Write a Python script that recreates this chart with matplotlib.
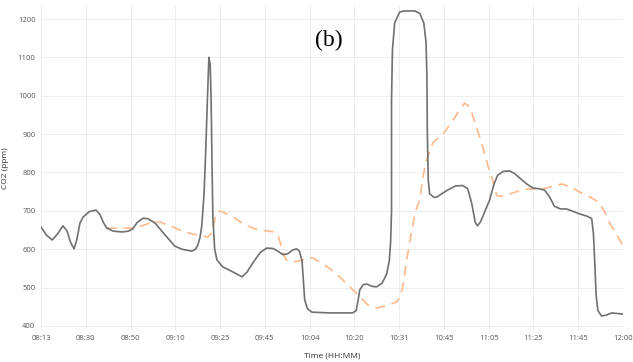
import matplotlib.pyplot as plt

time_labels = ["08:13", "08:30", "08:50", "09:10", "09:25", "09:45", "10:04",
               "10:20", "10:31", "10:45", "11:05", "11:25", "11:45", "12:00"]

# measured CO2 (position along the tick index, ppm)
meas_x = [0.00, 0.12, 0.25, 0.37, 0.49, 0.58, 0.66, 0.74, 0.80, 0.87, 0.94, 1.08,
          1.23, 1.32, 1.40, 1.47, 1.62, 1.81, 1.95, 2.05, 2.15, 2.28, 2.40, 2.55,
          2.75, 2.99, 3.15, 3.37, 3.45, 3.50, 3.55, 3.59, 3.64, 3.68, 3.72, 3.75,
          3.78, 3.80, 3.82, 3.84, 3.88, 3.93, 4.06, 4.30, 4.49, 4.60, 4.73, 4.90,
          5.04, 5.18, 5.29, 5.40, 5.51, 5.62, 5.71, 5.77, 5.83, 5.86, 5.89, 5.95,
          6.05, 6.45, 6.96, 7.04, 7.08, 7.12, 7.20, 7.28, 7.40, 7.50, 7.62, 7.72,
          7.78, 7.81, 7.83, 7.83, 7.85, 7.90, 8.01, 8.10, 8.35, 8.46, 8.55, 8.60,
          8.62, 8.63, 8.65, 8.68, 8.78, 8.84, 9.05, 9.26, 9.42, 9.53, 9.62, 9.70,
          9.75, 9.82, 9.92, 10.02, 10.12, 10.20, 10.33, 10.47, 10.58, 10.69, 10.85,
          10.98, 11.15, 11.25, 11.35, 11.47, 11.60, 11.74, 11.90, 12.03, 12.20,
          12.30, 12.34, 12.37, 12.40, 12.44, 12.52, 12.62, 12.75, 12.99]
meas_y = [658, 637, 624, 640, 661, 648, 618, 601, 625, 668, 684, 698,
          702, 690, 668, 655, 647, 645, 647, 653, 670, 681, 679, 668,
          640, 608, 600, 595, 600, 610, 630, 660, 740, 859, 1000, 1100,
          1080, 989, 820, 680, 600, 572, 554, 540, 528, 540, 564, 592,
          603, 602, 595, 586, 588, 598, 601, 595, 570, 520, 468, 445,
          436, 434, 434, 440, 465, 494, 508, 509, 503, 502, 512, 535,
          570, 620, 700, 989, 1120, 1190, 1218, 1221, 1221, 1215, 1190, 1140,
          1050, 900, 780, 745, 735, 736, 752, 765, 766, 758, 720, 670,
          661, 672, 700, 728, 770, 793, 803, 804, 797, 786, 770,
          760, 757, 754, 738, 712, 705, 705, 698, 692, 686,
          680, 640, 564, 480, 440, 426, 428, 434, 431]

# predicted CO2
pred_x = [1.47, 1.80, 2.10, 2.30, 2.43, 2.66, 2.83, 3.00, 3.21, 3.45, 3.73, 3.80,
          3.84, 3.90, 3.95, 4.06, 4.29, 4.50, 4.67, 4.85, 5.04, 5.20, 5.29, 5.35,
          5.40, 5.48, 5.56, 5.70, 5.85, 5.98, 6.07, 6.23, 6.45, 6.67, 6.90, 7.12,
          7.30, 7.50, 7.70, 7.95, 8.03, 8.08, 8.18, 8.28, 8.37, 8.46, 8.52, 8.59,
          8.75, 9.02, 9.25, 9.46, 9.58, 9.72, 9.87, 10.00, 10.09, 10.14, 10.18,
          10.25, 10.40, 10.62, 10.85, 11.21, 11.40, 11.63, 11.85, 12.03, 12.28,
          12.48, 12.60, 12.70, 12.85, 12.99]
pred_y = [655, 655, 655, 663, 668, 671, 663, 655, 645, 638, 632, 640,
          655, 685, 700, 697, 684, 668, 658, 650, 648, 645, 637, 615,
          590, 572, 567, 568, 572, 578, 577, 567, 550, 528, 502, 476,
          455, 447, 452, 463, 480, 502, 580, 650, 700, 728, 780, 825,
          877, 906, 945, 981, 971, 920, 866, 810, 780, 755, 740,
          738, 741, 750, 757, 757, 763, 770, 762, 749, 735,
          721, 695, 668, 640, 611]

fig = plt.figure(figsize=(6.33, 3.62), dpi=100)
ax = fig.add_axes([41 / 633, 1 - 329.8 / 362, 582 / 633, (329.8 - 5.6) / 362])

ax.plot(pred_x, pred_y, color="#fdb98a", lw=1.2, dashes=(6, 4))
ax.plot(meas_x, meas_y, color="#707070", lw=1.2, solid_joinstyle="round")

ax.set_xlim(0, 13)
ax.set_ylim(390, 1235)
ax.set_xticks(range(len(time_labels)))
ax.set_xticklabels(time_labels)
ax.set_yticks([400, 500, 600, 700, 800, 900, 1000, 1100, 1200])

ax.grid(True, color="#ebebeb", lw=0.6)
ax.set_axisbelow(True)
for s in ax.spines.values():
    s.set_visible(False)
ax.tick_params(length=0, labelsize=5.5, labelcolor="#555555", pad=4,
               labelfontfamily="Open Sans")

ax.set_xlabel("Time (HH:MM)", fontsize=6, color="#333333", family="Open Sans", labelpad=7)
ax.set_ylabel("CO2 (ppm)", fontsize=6, color="#333333", family="Open Sans", labelpad=6)

ax.text(329 / 633, 1 - 40 / 362, "(b)", transform=fig.transFigure, ha="center",
        va="center", fontsize=17, family="Liberation Serif", color="black")

fig.savefig("out.png", dpi=100)
